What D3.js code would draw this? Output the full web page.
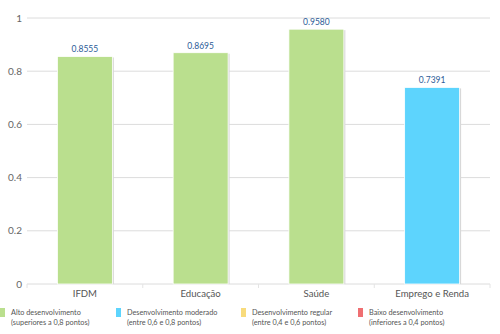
<!DOCTYPE html>
<html>
<head>
<meta charset="utf-8">
<script src="https://cdn.jsdelivr.net/npm/d3@7"></script>
<style>
  body { margin: 0; background: #fff; }
  svg { font-family: Lato, "Noto Sans", sans-serif; }
</style>
</head>
<body>
<svg width="500" height="334"></svg>
<script>
// indicadores do IFDM
var categorias = ['IFDM', 'Educação', 'Saúde', 'Emprego e Renda']
var valores = [0.8555, 0.8695, 0.9580, 0.7391]
var yTicks = [0, 0.2, 0.4, 0.6, 0.8, 1]

// faixas de desenvolvimento (legenda)
var faixas = [
  {l1: 'Alto desenvolvimento', l2: '(superiores a 0,8 pontos)', cor: '#badf8e'},
  {l1: 'Desenvolvimento moderado', l2: '(entre 0,6 e 0,8 pontos)', cor: '#5dd4fd'},
  {l1: 'Desenvolvimento regular', l2: '(entre 0,4 e 0,6 pontos)', cor: '#f8db7c'},
  {l1: 'Baixo desenvolvimento', l2: '(inferiores a 0,4 pontos)', cor: '#ef6f72'}
]

function corDe(v) {
  if (v > 0.8) return faixas[0].cor
  if (v > 0.6) return faixas[1].cor
  if (v > 0.4) return faixas[2].cor
  return faixas[3].cor
}

var svg = d3.select('svg')
var plotL = 27, plotR = 490, plotT = 18, plotB = 284

var x = d3.scaleBand().domain(categorias).range([plotL, plotR]).paddingInner(0.525).paddingOuter(0.2625)
var y = d3.scaleLinear().domain([0, 1]).range([plotB, plotT])

// grade horizontal
svg.append('g')
  .selectAll('line')
  .data(yTicks)
  .enter()
  .append('line')
  .attr('x1', plotL).attr('x2', plotR)
  .attr('y1', function(d){ return y(d) }).attr('y2', function(d){ return y(d) })
  .attr('stroke', '#dcdcdc').attr('stroke-width', 1)

svg.append('g')
  .selectAll('text')
  .data(yTicks)
  .enter()
  .append('text')
  .attr('x', 22)
  .attr('y', function(d){ return y(d) + 3.5 })
  .attr('text-anchor', 'end')
  .attr('fill', '#666')
  .attr('font-size', 10)
  .text(function(d){ return d })

// pequenos traços entre categorias
svg.append('g')
  .selectAll('line')
  .data(d3.range(categorias.length + 1))
  .enter()
  .append('line')
  .attr('x1', function(i){ return plotL + i * (plotR - plotL) / categorias.length })
  .attr('x2', function(i){ return plotL + i * (plotR - plotL) / categorias.length })
  .attr('y1', plotB).attr('y2', plotB + 4)
  .attr('stroke', '#e4e4e4')

var barras = svg.append('g')
  .selectAll('g')
  .data(valores)
  .enter()
  .append('g')

// sombra leve à direita
barras.append('rect')
  .attr('x', function(d,i){ return x(categorias[i]) + 1.5 })
  .attr('y', function(d){ return y(d) + 1 })
  .attr('width', x.bandwidth())
  .attr('height', function(d){ return plotB - y(d) - 1 })
  .attr('fill', '#d8d8d8')

barras.append('rect')
  .attr('x', function(d,i){ return x(categorias[i]) })
  .attr('y', function(d){ return y(d) })
  .attr('width', x.bandwidth())
  .attr('height', function(d){ return plotB - y(d) })
  .attr('fill', function(d){ return corDe(d) })
  .attr('stroke', '#fff').attr('stroke-width', 0.8)

barras.append('text')
  .attr('x', function(d,i){ return x(categorias[i]) + x.bandwidth() / 2 })
  .attr('y', function(d){ return y(d) - 4 })
  .attr('text-anchor', 'middle')
  .attr('fill', '#2c5c98')
  .attr('font-size', 8.5)
  .text(function(d){ return d.toFixed(4) })

// rótulos das categorias
svg.append('g')
  .selectAll('text')
  .data(categorias)
  .enter()
  .append('text')
  .attr('x', function(d){ return x(d) + x.bandwidth() / 2 })
  .attr('y', 297)
  .attr('text-anchor', 'middle')
  .attr('fill', '#555')
  .attr('font-size', 9.6)
  .text(function(d){ return d })

// legenda
var legX = [0, 116, 241, 358]
var leg = svg.append('g')
  .selectAll('g')
  .data(faixas)
  .enter()
  .append('g')
  .attr('transform', function(d,i){ return 'translate(' + legX[i] + ',308)' })

leg.append('rect')
  .attr('width', 5).attr('height', 9).attr('y', 0)
  .attr('fill', function(d){ return d.cor })

leg.append('text')
  .attr('x', 11).attr('y', 7)
  .attr('font-size', 7.3).attr('fill', '#555')
  .text(function(d){ return d.l1 })

leg.append('text')
  .attr('x', 11).attr('y', 17)
  .attr('font-size', 7.3).attr('fill', '#555')
  .text(function(d){ return d.l2 })
</script>
</body>
</html>
